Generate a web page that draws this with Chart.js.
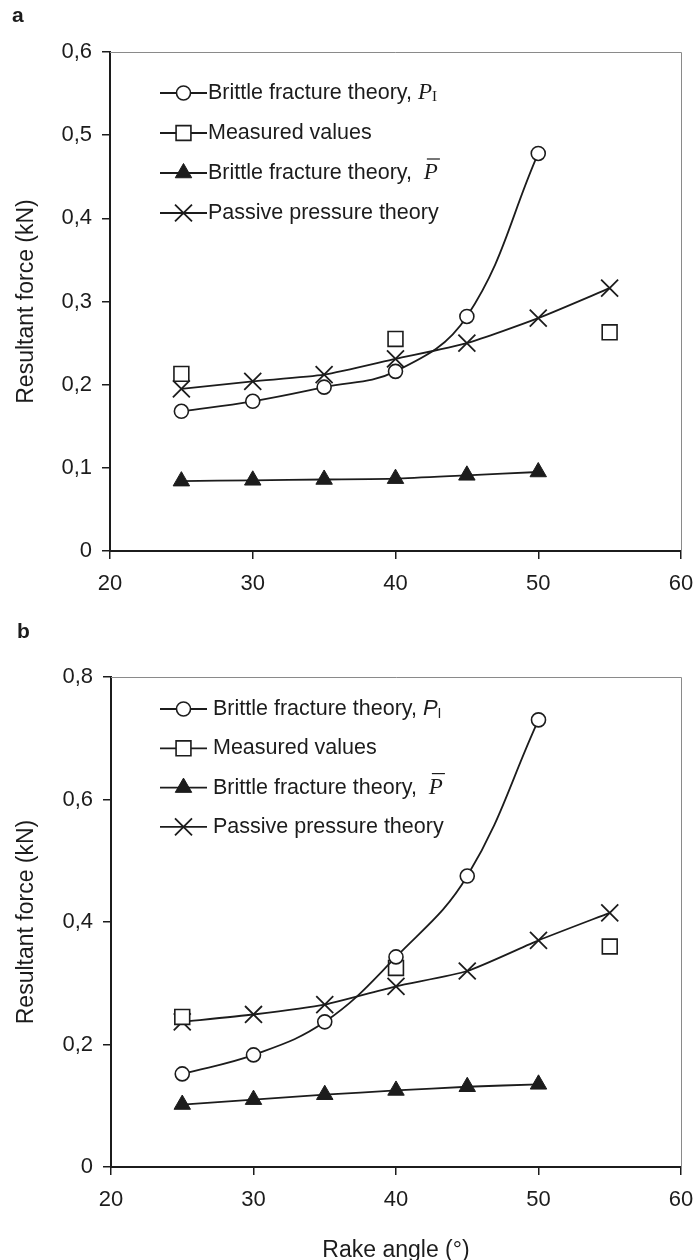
<!DOCTYPE html>
<html>
<head>
<meta charset="utf-8">
<script src="https://cdn.jsdelivr.net/npm/chart.js@4.4.1/dist/chart.umd.min.js"></script>
<style>
  html, body { margin: 0; padding: 0; background: #fff; }
  body { width: 697px; height: 1260px; overflow: hidden; }
  canvas { display: block; }
</style>
</head>
<body>
<canvas id="chartA" width="697" height="605"></canvas>
<canvas id="chartB" width="697" height="655"></canvas>
<script>
// shared x values (rake angle, degrees)
const rakeAngles = [25, 30, 35, 40, 45, 50];
const rakeAnglesLong = [25, 30, 35, 40, 45, 50, 55];
const measuredAngles = [25, 40, 55];
const xTicks = ['20', '30', '40', '50', '60'];

// panel a
const brittlePIA = [0.168, 0.180, 0.197, 0.216, 0.282, 0.478];
const measuredA = [0.213, 0.255, 0.263];
const brittlePBarA = [0.084, 0.085, 0.086, 0.087, 0.091, 0.095];
const passiveA = [0.195, 0.204, 0.212, 0.231, 0.250, 0.280, 0.316];
const yTicksA = ['0', '0,1', '0,2', '0,3', '0,4', '0,5', '0,6'];

// panel b
const brittlePIB = [0.152, 0.183, 0.237, 0.343, 0.475, 0.730];
const measuredB = [0.245, 0.325, 0.360];
const brittlePBarB = [0.102, 0.110, 0.118, 0.125, 0.131, 0.135];
const passiveB = [0.237, 0.249, 0.265, 0.295, 0.320, 0.370, 0.415];
const yTicksB = ['0', '0,2', '0,4', '0,6', '0,8'];

const ink = '#1c1c1c';
const sans = "'Liberation Sans', Arial, Helvetica, sans-serif";
const serif = "'Liberation Serif', 'Times New Roman', serif";
const tickFont = { family: sans, size: 22 };
const toNum = t => parseFloat(t.replace(',', '.'));

function pts(xs, ys) {
    return ys.map((y, i) => ({ x: xs[i], y: y }));
}

function makeDatasets(pi, meas, pbar, pass) {
    return [
        {
            label: 'Brittle fracture theory, PI',
            data: pts(rakeAngles, pi),
            borderColor: ink, borderWidth: 1.8,
            pointStyle: 'circle', pointRadius: 7,
            pointBackgroundColor: '#fff', pointBorderColor: ink, pointBorderWidth: 1.6,
            tension: 0.4
        },
        {
            label: 'Measured values',
            data: pts(measuredAngles, meas),
            showLine: false,
            borderColor: ink,
            pointStyle: 'rect', pointRadius: 10.5,
            pointBackgroundColor: '#fff', pointBorderColor: ink, pointBorderWidth: 1.6
        },
        {
            label: 'Brittle fracture theory, P-bar',
            data: pts(rakeAngles, pbar),
            borderColor: ink, borderWidth: 1.8,
            pointStyle: 'triangle', pointRadius: 9.5,
            pointBackgroundColor: ink, pointBorderColor: ink, pointBorderWidth: 1,
            tension: 0.2
        },
        {
            label: 'Passive pressure theory',
            data: pts(rakeAnglesLong, pass),
            borderColor: ink, borderWidth: 1.8,
            pointStyle: 'crossRot', pointRadius: 12,
            pointBackgroundColor: ink, pointBorderColor: ink, pointBorderWidth: 1.8,
            tension: 0.2
        }
    ];
}

// legend drawn inside the plot, with line + marker sample and rich text
const richLegend = {
    id: 'richLegend',
    afterDraw(chart, args, opts) {
        const ctx = chart.ctx;
        ctx.save();
        opts.items.forEach((parts, i) => {
            const ds = chart.data.datasets[i];
            const y = opts.y + i * opts.dy;
            ctx.strokeStyle = ink;
            ctx.lineWidth = 1.8;
            ctx.beginPath();
            ctx.moveTo(opts.x, y);
            ctx.lineTo(opts.x + opts.lineLen, y);
            ctx.stroke();
            ctx.fillStyle = ds.pointBackgroundColor;
            ctx.strokeStyle = ds.pointBorderColor;
            ctx.lineWidth = ds.pointBorderWidth;
            Chart.helpers.drawPoint(ctx, {
                pointStyle: ds.pointStyle, radius: ds.pointRadius,
                borderWidth: ds.pointBorderWidth, rotation: 0
            }, opts.x + opts.lineLen / 2, y);

            let tx = opts.x + opts.lineLen + opts.gap;
            ctx.textAlign = 'left';
            ctx.textBaseline = 'middle';
            ctx.fillStyle = ink;
            parts.forEach(p => {
                ctx.font = p.font;
                ctx.fillText(p.text, tx, y + (p.dy || 0));
                const w = ctx.measureText(p.text).width;
                if (p.overline) {
                    ctx.strokeStyle = ink;
                    ctx.lineWidth = 1.2;
                    ctx.beginPath();
                    ctx.moveTo(tx + 3, y - 14);
                    ctx.lineTo(tx + w + 2, y - 14);
                    ctx.stroke();
                }
                tx += w;
            });
        });
        ctx.restore();
    }
};

// panel letter and the thin top/right frame
const frame = {
    id: 'frame',
    beforeDatasetsDraw(chart) {
        const { ctx, chartArea: a } = chart;
        ctx.save();
        ctx.strokeStyle = '#8a8a8a';
        ctx.lineWidth = 1;
        ctx.beginPath();
        ctx.moveTo(a.left, a.top + 0.5);
        ctx.lineTo(a.right + 0.5, a.top + 0.5);
        ctx.lineTo(a.right + 0.5, a.bottom);
        ctx.stroke();
        ctx.restore();
    },
    afterDraw(chart, args, opts) {
        const ctx = chart.ctx;
        ctx.save();
        ctx.fillStyle = ink;
        ctx.font = 'bold 21px ' + sans;
        ctx.textBaseline = 'alphabetic';
        ctx.fillText(opts.letter, opts.x, opts.y);
        ctx.restore();
    }
};

function legendItems(serifPI) {
    const body = '21.5px ' + sans;
    const first = serifPI
        ? [{ text: 'Brittle fracture theory, ', font: body },
           { text: 'P', font: 'italic 23px ' + serif },
           { text: 'I', font: '15px ' + serif, dy: 4 }]
        : [{ text: 'Brittle fracture theory, ', font: body },
           { text: 'P', font: 'italic 22px ' + sans },
           { text: 'I', font: '300 14px ' + sans, dy: 5 }];
    return [
        first,
        [{ text: 'Measured values', font: body }],
        [{ text: 'Brittle fracture theory,  ', font: body },
         { text: 'P', font: 'italic 23px ' + serif, overline: true }],
        [{ text: 'Passive pressure theory', font: body }]
    ];
}

function makeChart(id, cfg) {
    const ctx = document.getElementById(id).getContext('2d');
    return new Chart(ctx, {
        type: 'line',
        data: { datasets: makeDatasets(cfg.pi, cfg.meas, cfg.pbar, cfg.pass) },
        plugins: [frame, richLegend],
        options: {
            responsive: false,
            animation: false,
            layout: { padding: { top: cfg.top, right: 16, left: 0, bottom: 0 } },
            plugins: {
                legend: { display: false },
                tooltip: { enabled: false },
                frame: { letter: cfg.letter, x: cfg.letterX, y: cfg.letterY },
                richLegend: { x: 160, y: cfg.legendY, dy: cfg.legendDy, lineLen: 47, gap: cfg.legendGap, items: legendItems(cfg.serifPI) }
            },
            scales: {
                x: {
                    type: 'linear',
                    min: 20, max: 60,
                    afterBuildTicks: s => { s.ticks = xTicks.map(t => ({ value: toNum(t) })); },
                    afterFit: s => { s.height = cfg.xHeight; s.paddingLeft = 0; s.paddingRight = 0; },
                    ticks: { color: ink, font: tickFont, padding: 12, callback: (v, i) => xTicks[i] },
                    grid: { drawOnChartArea: false, drawTicks: true, tickLength: 8, color: ink, lineWidth: 1.5 },
                    border: { color: ink, width: 2 },
                    title: {
                        display: cfg.xTitle !== '',
                        text: cfg.xTitle,
                        color: ink,
                        font: { family: sans, size: 23, lineHeight: 0.8 },
                        padding: { top: 0, bottom: 0 }
                    }
                },
                y: {
                    min: 0,
                    max: toNum(cfg.yTicks[cfg.yTicks.length - 1]),
                    afterBuildTicks: s => { s.ticks = cfg.yTicks.map(t => ({ value: toNum(t) })); },
                    afterFit: s => { s.width = cfg.yWidth; s.paddingTop = 0; s.paddingBottom = 0; },
                    ticks: { color: ink, font: tickFont, padding: 10, callback: (v, i) => cfg.yTicks[i] },
                    grid: { drawOnChartArea: false, drawTicks: true, tickLength: 8, color: ink, lineWidth: 1.5 },
                    border: { color: ink, width: 2 },
                    title: {
                        display: true,
                        text: 'Resultant force (kN)',
                        color: ink,
                        font: { family: sans, size: 23 },
                        padding: { top: 13, bottom: 0 }
                    }
                }
            }
        }
    });
}

makeChart('chartA', {
    pi: brittlePIA, meas: measuredA, pbar: brittlePBarA, pass: passiveA,
    yTicks: yTicksA, top: 52, xHeight: 54, yWidth: 110, xTitle: '',
    letter: 'a', letterX: 12, letterY: 22,
    legendY: 93, legendDy: 40, legendGap: 1, serifPI: true
});

makeChart('chartB', {
    pi: brittlePIB, meas: measuredB, pbar: brittlePBarB, pass: passiveB,
    yTicks: yTicksB, top: 72, xHeight: 93, yWidth: 111, xTitle: 'Rake angle (°)',
    letter: 'b', letterX: 17, letterY: 33,
    legendY: 104, legendDy: 39.3, legendGap: 6, serifPI: false
});
</script>
</body>
</html>
